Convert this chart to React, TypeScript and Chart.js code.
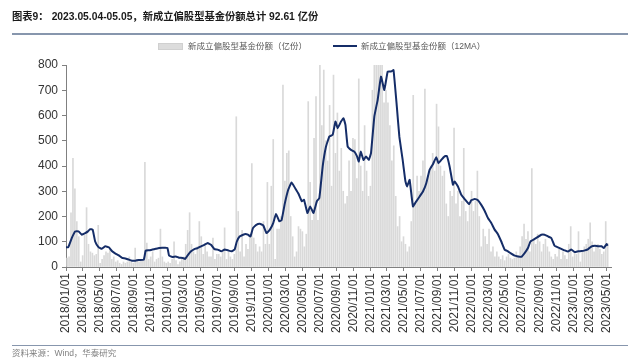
import React, { useEffect, useRef } from 'react';
import { Chart, registerables } from 'chart.js';

Chart.register(...registerables);

// ---------- data ----------
const tickLabels = [
  '2018/01/01', '2018/03/01', '2018/05/01', '2018/07/01', '2018/09/01', '2018/11/01',
  '2019/01/01', '2019/03/01', '2019/05/01', '2019/07/01', '2019/09/01', '2019/11/01',
  '2020/01/01', '2020/03/01', '2020/05/01', '2020/07/01', '2020/09/01', '2020/11/01',
  '2021/01/01', '2021/03/01', '2021/05/01', '2021/07/01', '2021/09/01', '2021/11/01',
  '2022/01/01', '2022/03/01', '2022/05/01', '2022/07/01', '2022/09/01', '2022/11/01',
  '2023/01/01', '2023/03/01', '2023/05/01',
];

// weekly (Fridays) new equity-fund shares, 亿份
const barStart = '2018-01-05';
const barValues = [
  // 2018
  35, 40, 215, 430,
  310, 180, 120, 20,
  45, 125, 235, 90, 60,
  55, 45, 50, 165,
  15, 30, 45, 60,
  55, 75, 30, 40, 20,
  25, 15, 10, 20,
  15, 20, 40, 25, 15,
  75, 30, 20, 25,
  25, 415, 95, 30,
  40, 60, 20, 30, 35,
  150, 40, 20, 15,
  // 2019
  20, 15, 30, 100,
  25, 10, 20, 30,
  40, 90, 145, 215, 90,
  60, 50, 80, 180,
  120, 50, 90, 60, 40,
  40, 115, 30, 50,
  50, 40, 60, 155,
  30, 60, 40, 30, 50,
  595, 220, 60, 145,
  40, 90, 70, 120,
  410, 115, 90, 60, 80,
  60, 180, 90, 335,
  // 2020
  90, 320, 505, 30, 150,
  150, 200, 720, 340,
  450, 460, 200, 120,
  40, 60, 160, 150,
  140, 80, 130, 655, 335,
  185, 510, 675, 185,
  880, 560, 780, 500, 420,
  640, 320, 760, 450,
  610, 380, 470, 300,
  250, 280, 420, 300, 510,
  505, 350, 745, 400,
  300, 560, 380, 280,
  // 2021
  320, 700, 1100, 950, 1150,
  1000, 900, 650, 700,
  650, 560, 420, 480,
  280, 160, 200, 100, 120,
  90, 60, 80, 180,
  680, 250, 360, 300,
  360, 420, 705, 340, 380,
  400, 450, 380, 645,
  555, 400, 360, 380,
  250, 200, 300, 280, 550,
  250, 300, 200, 260,
  470, 220, 180, 250, 300,
  // 2022
  220, 260, 380, 200,
  80, 150, 120, 90,
  150, 60, 80, 40,
  60, 40, 30, 45, 25,
  40, 50, 35, 30,
  35, 60, 45, 80,
  120, 170, 110, 140, 60,
  390, 110, 90, 130,
  100, 60, 90, 110, 80,
  60, 40, 30, 50,
  40, 70, 30, 60,
  45, 30, 90, 160, 40,
  // 2023
  60, 50, 140, 20,
  60, 80, 90, 110,
  175, 100, 60, 80, 90,
  70, 50, 60, 180,
  93,
];

// 12-week moving average
const maDates = [
  '2018-01-01', '2018-01-09', '2018-01-22', '2018-02-03', '2018-02-15', '2018-02-27', '2018-03-11', '2018-03-21',
  '2018-03-29', '2018-04-07', '2018-04-16', '2018-04-28', '2018-05-10', '2018-05-22', '2018-06-04', '2018-06-16',
  '2018-06-28', '2018-07-10', '2018-07-22', '2018-08-03', '2018-08-15', '2018-08-27', '2018-09-08', '2018-09-20',
  '2018-10-08', '2018-10-15', '2018-10-27', '2018-11-08', '2018-11-20', '2018-12-02', '2018-12-14', '2019-01-01',
  '2019-01-07', '2019-01-19', '2019-01-31', '2019-02-12', '2019-02-25', '2019-03-06', '2019-03-15', '2019-03-27',
  '2019-04-08', '2019-04-20', '2019-05-02', '2019-05-14', '2019-05-26', '2019-06-07', '2019-06-19', '2019-07-01',
  '2019-07-14', '2019-07-26', '2019-08-07', '2019-08-19', '2019-08-31', '2019-09-08', '2019-09-18', '2019-10-06',
  '2019-10-18', '2019-10-27', '2019-11-05', '2019-11-17', '2019-11-30', '2019-12-12', '2019-12-24', '2020-01-05',
  '2020-01-17', '2020-01-27', '2020-02-08', '2020-02-16', '2020-02-28', '2020-03-11', '2020-03-23', '2020-04-05',
  '2020-04-17', '2020-04-29', '2020-05-07', '2020-05-19', '2020-05-29', '2020-06-10', '2020-06-22', '2020-07-01',
  '2020-07-13', '2020-07-25', '2020-08-06', '2020-08-18', '2020-08-28', '2020-09-05', '2020-09-17', '2020-09-26',
  '2020-10-03', '2020-10-11', '2020-10-23', '2020-11-04', '2020-11-13', '2020-11-20', '2020-11-27', '2020-12-07',
  '2020-12-16', '2020-12-26', '2021-01-03', '2021-01-15', '2021-01-27', '2021-02-08', '2021-02-20', '2021-03-04',
  '2021-03-16', '2021-03-25', '2021-04-06', '2021-04-15', '2021-04-27', '2021-05-07', '2021-05-13', '2021-05-22',
  '2021-06-03', '2021-06-15', '2021-06-27', '2021-07-09', '2021-07-21', '2021-08-02', '2021-08-14', '2021-08-26',
  '2021-09-03', '2021-09-13', '2021-09-25', '2021-10-03', '2021-10-13', '2021-10-25', '2021-10-31', '2021-11-12',
  '2021-11-24', '2021-12-06', '2021-12-22', '2021-12-30', '2022-01-11', '2022-01-23', '2022-02-04', '2022-02-16',
  '2022-02-28', '2022-03-12', '2022-03-24', '2022-04-05', '2022-04-17', '2022-04-29', '2022-05-11', '2022-05-23',
  '2022-06-04', '2022-06-16', '2022-06-28', '2022-07-10', '2022-07-22', '2022-07-31', '2022-08-15', '2022-08-27',
  '2022-09-08', '2022-09-20', '2022-10-02', '2022-10-14', '2022-10-26', '2022-11-07', '2022-11-19', '2022-12-01',
  '2022-12-13', '2022-12-25', '2023-01-07', '2023-01-19', '2023-01-31', '2023-02-12', '2023-02-24', '2023-03-08',
  '2023-03-20', '2023-04-01', '2023-04-13', '2023-04-21', '2023-05-01', '2023-05-05',
];
const maValues = [
  78, 78, 115, 141, 141, 128, 134, 141,
  150, 148, 101, 79, 72, 82, 78, 62,
  53, 46, 36, 34, 29, 25, 25, 28,
  29, 65, 66, 69, 72, 75, 76, 76,
  45, 40, 42, 37, 36, 32, 46, 62,
  71, 75, 82, 88, 95, 88, 71, 69,
  62, 69, 66, 62, 69, 101, 121, 130,
  128, 121, 154, 167, 171, 165, 134, 148,
  174, 210, 181, 185, 253, 306, 335, 312,
  290, 260, 266, 214, 240, 214, 260, 273,
  398, 477, 517, 523, 576, 550, 576, 589,
  563, 477, 464, 457, 440, 418, 457, 424,
  438, 424, 451, 596, 662, 754, 701, 774,
  774, 780, 635, 517, 424, 339, 319, 345,
  240, 260, 279, 299, 332, 385, 407, 435,
  411, 424, 438, 440, 398, 326, 339, 319,
  286, 269, 249, 264, 269, 264, 246, 223,
  194, 174, 148, 130, 101, 69, 62, 53,
  45, 42, 40, 55, 75, 101, 111, 119,
  128, 128, 121, 115, 84, 78, 72, 66,
  61, 69, 59, 62, 63, 66, 71, 82,
  84, 82, 82, 75, 91, 84,
];

const yTicks = [0, 100, 200, 300, 400, 500, 600, 700, 800];

const titleText = '2023.05.04-05.05，新成立偏股型基金份额总计 92.61 亿份';
const barLabel = '新成立偏股型基金份额（亿份）';
const lineLabel = '新成立偏股型基金份额（12MA）';
const sourceText = '资料来源：Wind，华泰研究';

// ---------- helpers ----------
const DAY = 86400000;
const ORIGIN = Date.UTC(2018, 0, 1);
const toDay = (s: string) => {
  const [y, m, d] = s.split(/[-/]/).map(Number);
  return Math.round((Date.UTC(y, m - 1, d) - ORIGIN) / DAY);
};

const NAVY = '#152d68';
const BAR = '#d9d9d9';
const AXIS = '#808080';
const LATIN = '"Liberation Sans", Arial, "Noto Sans CJK SC", sans-serif';
const CJK = '"Liberation Sans", "Noto Sans CJK SC", sans-serif';

export default function App() {
  const ref = useRef<HTMLCanvasElement | null>(null);

  useEffect(() => {
    if (!ref.current) return;
    const start = toDay(barStart);
    const barData = barValues.map((v, i) => ({ x: start + 7 * i, y: v }));
    const lineData = maDates.map((d, i) => ({ x: toDay(d), y: maValues[i] }));
    const tickDays = tickLabels.map(toDay);
    const labelOf: Record<number, string> = {};
    tickLabels.forEach((l, i) => (labelOf[tickDays[i]] = l));

    const chart = new Chart(ref.current, {
      type: 'bar',
      data: {
        datasets: [
          {
            type: 'bar',
            label: barLabel,
            data: barData as any,
            backgroundColor: BAR,
            barThickness: 1,
            order: 2,
          },
          {
            type: 'line',
            label: lineLabel,
            data: lineData as any,
            borderColor: NAVY,
            backgroundColor: NAVY,
            borderWidth: 2,
            pointRadius: 0,
            tension: 0.1,
            order: 1,
          },
        ],
      },
      options: {
        animation: false,
        responsive: false,
        devicePixelRatio: 1,
        layout: { padding: { left: 0, right: 29, top: 65, bottom: 18 } },
        plugins: { legend: { display: false }, tooltip: { enabled: false }, title: { display: false } },
        scales: {
          x: {
            type: 'linear',
            min: 0,
            max: 1962,
            offset: false,
            afterBuildTicks: (s: any) => {
              s.ticks = tickDays.map((v) => ({ value: v }));
            },
            afterFit: (s: any) => {
              s.height = 75;
            },
            ticks: {
              autoSkip: false,
              minRotation: 90,
              maxRotation: 90,
              padding: 2,
              color: '#333',
              font: { family: LATIN, size: 12 },
              callback: (v: any) => labelOf[v as number] ?? '',
            },
            grid: { display: true, drawOnChartArea: false, drawTicks: true, tickLength: 4, color: AXIS, offset: false },
            border: { display: true, color: AXIS, width: 1 },
          },
          y: {
            min: 0,
            max: 800,
            afterBuildTicks: (s: any) => {
              s.ticks = yTicks.map((v) => ({ value: v }));
            },
            afterFit: (s: any) => {
              s.width = 66;
            },
            ticks: {
              padding: 4,
              color: '#333',
              font: { family: LATIN, size: 12 },
            },
            grid: { display: true, drawOnChartArea: false, drawTicks: true, tickLength: 4, color: AXIS },
            border: { display: true, color: AXIS, width: 1 },
          },
        },
      } as any,
    });
    return () => chart.destroy();
  }, []);

  return (
    <div style={{ position: 'fixed', left: 0, top: 0, width: 640, height: 360, background: '#fff', overflow: 'hidden' }}>
      <canvas ref={ref} width={640} height={360} style={{ position: 'absolute', left: 0, top: 0, width: 640, height: 360 }} />
      <div style={{ position: 'absolute', left: 12, top: 10, fontFamily: CJK, fontSize: 10.3, fontWeight: 700, color: '#1a1a1a', whiteSpace: 'pre', lineHeight: '14px' }}>
        <span>图表9：</span>
        <span style={{ marginLeft: 3 }}>{titleText}</span>
      </div>
      <div style={{ position: 'absolute', left: 12, top: 33, width: 616, height: 2, background: '#8796ad' }} />
      <div style={{ position: 'absolute', left: 158, top: 43, width: 25, height: 7, background: '#dcdcdc', border: '1px solid #d0d0d0', boxSizing: 'border-box' }} />
      <div style={{ position: 'absolute', left: 188, top: 40, fontFamily: CJK, fontSize: 8.5, color: '#595959', lineHeight: '12px', whiteSpace: 'pre' }}>{barLabel}</div>
      <div style={{ position: 'absolute', left: 333, top: 45, width: 24, height: 2, background: NAVY }} />
      <div style={{ position: 'absolute', left: 361, top: 40, fontFamily: CJK, fontSize: 8.5, color: '#595959', lineHeight: '12px', whiteSpace: 'pre' }}>{lineLabel}</div>
      <div style={{ position: 'absolute', left: 12, top: 345, width: 616, height: 1, background: '#8796ad' }} />
      <div style={{ position: 'absolute', left: 12, top: 347, fontFamily: CJK, fontSize: 8.5, color: '#808080', lineHeight: '12px', whiteSpace: 'pre' }}>{sourceText}</div>
    </div>
  );
}
